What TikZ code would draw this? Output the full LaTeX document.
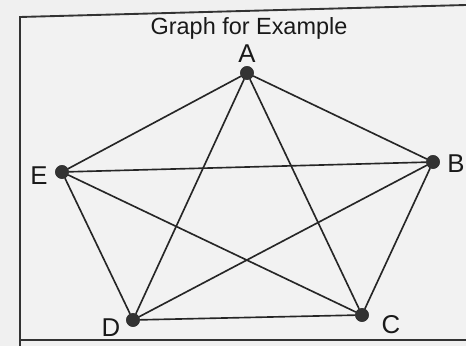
\documentclass[tikz,border=0pt]{standalone}
\usepackage{fontspec}
\setmainfont{Liberation Sans}
\usepackage{tikz}

\begin{document}
\begin{tikzpicture}
 [x=0.03cm, y=-0.03cm,
  vertex/.style={circle, fill=black!80, draw=black!85, inner sep=0pt, minimum size=0.4cm},
  vlabel/.style={font=\fontsize{22}{24}\selectfont, text=black!90},
  link/.style={draw=black!85, line width=1.4pt}]

\useasboundingbox[fill=black!6] (0,0) rectangle (466,346);
\fill[white!95!black] (21,16) -- (466,5) -- (466,339) -- (21,339) -- cycle;
\draw[black!80, line width=1.6pt] (20,346) -- (20,17) -- (466,5);
\draw[black!80, line width=1.6pt] (20,340) -- (466,340);

\node[font=\fontsize{20}{22}\selectfont, text=black!90] (title) at (249,28) {Graph for Example};

\node[vertex] (A) at (247,73) {};
\node[vertex] (B) at (433,162) {};
\node[vertex] (C) at (362,315) {};
\node[vertex] (D) at (133,320) {};
\node[vertex] (E) at (62,172) {};

\node[vlabel, inner sep=0pt] (la) at (247,54) {A};
\node[vlabel, inner sep=0pt] (lb) at (456,164) {B};
\node[vlabel, inner sep=0pt] (lc) at (391,325) {C};
\node[vlabel, inner sep=0pt] (ld) at (111,328) {D};
\node[vlabel, inner sep=0pt] (le) at (39,176) {E};

\path
  (A) edge [link] (B)
  (A) edge [link] (C)
  (A) edge [link] (D)
  (A) edge [link] (E)
  (B) edge [link] (C)
  (B) edge [link] (D)
  (B) edge [link] (E)
  (C) edge [link] (D)
  (C) edge [link] (E)
  (D) edge [link] (E);

\end{tikzpicture}
\end{document}
